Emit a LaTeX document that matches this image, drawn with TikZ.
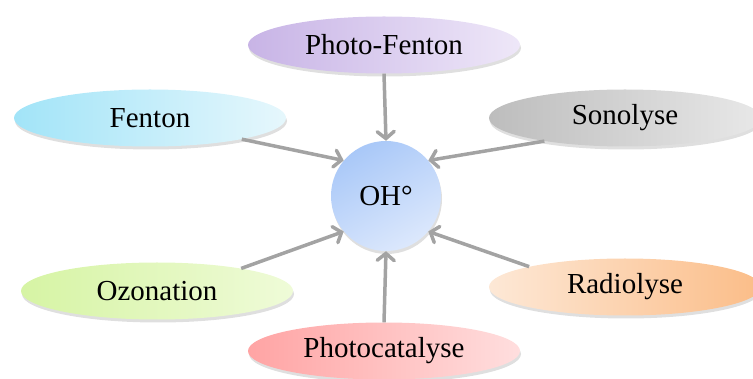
\documentclass[tikz,border=0pt]{standalone}
\usepackage{fontspec}
\setmainfont{Liberation Serif}
\usetikzlibrary{positioning, calc, shapes.geometric, shadows, arrows.meta}
\definecolor{fentonleft}{HTML}{A2E4F8}
\definecolor{fentonright}{HTML}{E6F7FC}
\definecolor{pfleft}{HTML}{C8B4E6}
\definecolor{pfright}{HTML}{EEE7F8}
\definecolor{sonoleft}{HTML}{BDBDBD}
\definecolor{sonoright}{HTML}{E8E8E8}
\definecolor{ozoleft}{HTML}{D6F4A4}
\definecolor{ozoright}{HTML}{EFFBD8}
\definecolor{radioleft}{HTML}{FDE8D6}
\definecolor{radioright}{HTML}{FBBD88}
\definecolor{catleft}{HTML}{FFA4A4}
\definecolor{catright}{HTML}{FFDEDE}
\definecolor{ohtop}{HTML}{A9C8F8}
\definecolor{ohbottom}{HTML}{DCE8FC}
\definecolor{arrowgray}{HTML}{A3A3A3}

\begin{document}
\begin{tikzpicture}[x=1pt, y=-1pt]
    % Stili per i nodi
    \tikzset{
        process_node/.style={
            ellipse,
            minimum width=272pt, % Larghezza dell'ellisse
            minimum height=57pt, % Altezza dell'ellisse
            inner sep=0pt,
            font=\fontsize{29}{32}\selectfont,
            drop shadow={shadow xshift=1pt, shadow yshift=-3pt, opacity=0.25}
        },
        radical_node/.style={
            circle,
            minimum size=110pt,
            inner sep=0pt,
            font=\fontsize{29}{32}\selectfont,
            drop shadow={shadow xshift=1pt, shadow yshift=-3pt, opacity=0.25}
        },
        feed_arrow/.style={
            draw=arrowgray,
            line width=3.5pt,
            -{Straight Barb[length=7pt, width=17pt, line cap=round]}
        }
    }

    % Area del disegno
    \useasboundingbox (0,0) rectangle (753,379);

    % Nodo centrale
    \node[radical_node, top color=ohtop, bottom color=ohbottom, shading angle=30] (oh) at (386,196) {OH°};

    % Procedimenti
    \node[process_node, left color=pfleft, right color=pfright] (photo_fenton) at (384,45) {Photo-Fenton};
    \node[process_node, left color=fentonleft, right color=fentonright] (fenton) at (150,118) {Fenton};
    \node[process_node, left color=sonoleft, right color=sonoright] (sonolyse) at (625,118) {Sonolyse};
    \node[process_node, left color=ozoleft, right color=ozoright] (ozonation) at (157,291) {Ozonation};
    \node[process_node, left color=radioleft, right color=radioright] (radiolyse) at (625,287) {Radiolyse};
    \node[process_node, left color=catleft, right color=catright] (photocatalyse) at (384,351) {Photocatalyse};

    % Frecce verso il radicale
    \draw[feed_arrow] (photo_fenton.south) -- (oh.north);
    \draw[feed_arrow] (fenton.-13) -- (oh.140);
    \draw[feed_arrow] (sonolyse.196) -- (oh.40);
    \draw[feed_arrow] (ozonation.15) -- (oh.220);
    \draw[feed_arrow] (radiolyse.168) -- (oh.-40);
    \draw[feed_arrow] (photocatalyse.north) -- (oh.south);

\end{tikzpicture}
\end{document}
